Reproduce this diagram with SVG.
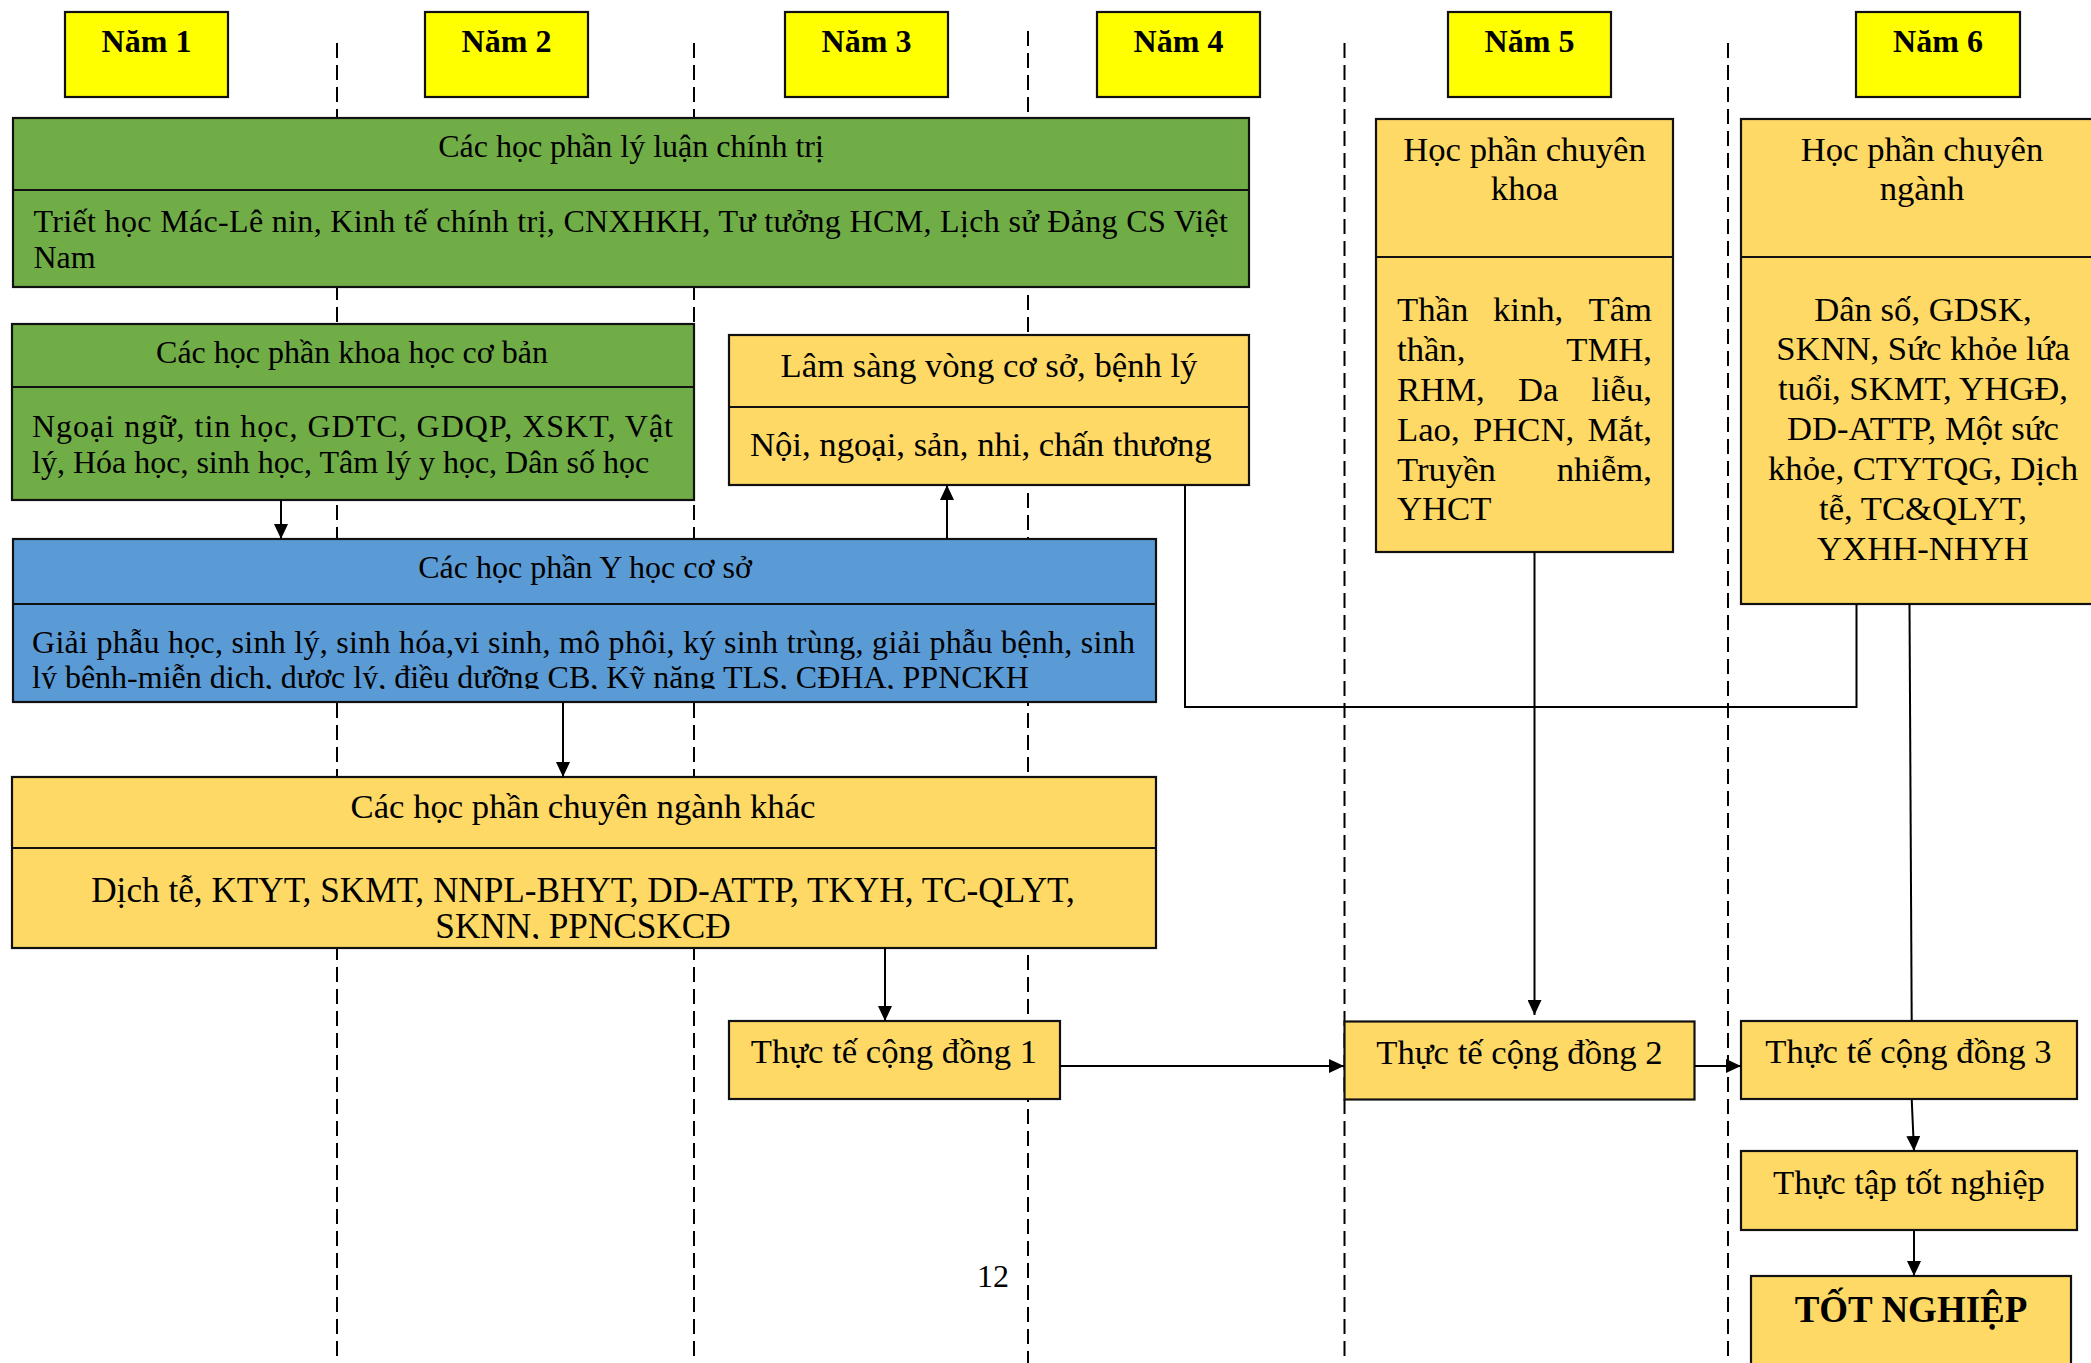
<svg xmlns="http://www.w3.org/2000/svg" width="2091" height="1363" viewBox="0 0 2091 1363">
<defs>
<style>
.box{stroke:#111;stroke-width:2.2}
.yr{fill:#FFFF00}
.g{fill:#70AD47}
.b{fill:#5B9BD5}
.o{fill:#FFD966}
.div{stroke:#111;stroke-width:2.2}
text{font-family:"Liberation Serif","Times New Roman",serif;fill:#000}
.t32{font-size:32px}
.t35{font-size:34.67px}
.yt{font-size:32px;font-weight:bold;text-anchor:middle}
.c{text-anchor:middle}
.e{text-anchor:end}
.dash{stroke:#000;stroke-width:2;stroke-dasharray:15 7;fill:none}
.conn{stroke:#000;stroke-width:2;fill:none}
</style>
<marker id="arr" viewBox="0 0 15 14" refX="15" refY="7" markerWidth="15" markerHeight="14" markerUnits="userSpaceOnUse" orient="auto">
<path d="M0,0 L15,7 L0,14 z" fill="#000"/>
</marker>
<clipPath id="clipBlue"><rect x="13" y="605" width="1143" height="84"/></clipPath>
<clipPath id="clipOther"><rect x="12" y="849" width="1143" height="90"/></clipPath>
</defs>
<rect width="2091" height="1363" fill="#fff"/>

<g id="year-dividers">
<line class="dash" x1="337" y1="43" x2="337" y2="1357"/>
<line class="dash" x1="694" y1="43" x2="694" y2="1357"/>
<line class="dash" x1="1028" y1="31" x2="1028" y2="1363"/>
<line class="dash" x1="1344.5" y1="43" x2="1344.5" y2="1357"/>
<line class="dash" x1="1728" y1="43" x2="1728" y2="1357"/>
</g>

<g id="nam1"><rect class="box yr" x="65" y="12" width="163" height="85"/><text class="yt" x="146.5" y="52">Năm 1</text></g>
<g id="nam2"><rect class="box yr" x="425" y="12" width="163" height="85"/><text class="yt" x="506.5" y="52">Năm 2</text></g>
<g id="nam3"><rect class="box yr" x="785" y="12" width="163" height="85"/><text class="yt" x="866.5" y="52">Năm 3</text></g>
<g id="nam4"><rect class="box yr" x="1097" y="12" width="163" height="85"/><text class="yt" x="1178.5" y="52">Năm 4</text></g>
<g id="nam5"><rect class="box yr" x="1448" y="12" width="163" height="85"/><text class="yt" x="1529.5" y="52">Năm 5</text></g>
<g id="nam6"><rect class="box yr" x="1856" y="12" width="164" height="85"/><text class="yt" x="1938" y="52">Năm 6</text></g>

<g id="ly-luan-chinh-tri">
<rect class="box g" x="13" y="118" width="1236" height="169"/>
<line class="div" x1="13" y1="190" x2="1249" y2="190"/>
<text class="t32 c" x="631" y="157">Các học phần lý luận chính trị</text>
<text class="t32" x="33.5" y="232" textLength="1194.5" lengthAdjust="spacing">Triết học Mác-Lê nin, Kinh tế chính trị, CNXHKH, Tư tưởng HCM, Lịch sử Đảng CS Việt</text>
<text class="t32" x="33.5" y="268">Nam</text>
</g>

<g id="khoa-hoc-co-ban">
<rect class="box g" x="12" y="324" width="682" height="176"/>
<line class="div" x1="12" y1="387" x2="694" y2="387"/>
<text class="t32 c" x="352" y="363">Các học phần khoa học cơ bản</text>
<text class="t32" x="32" y="437" textLength="641" lengthAdjust="spacing">Ngoại ngữ, tin học, GDTC, GDQP, XSKT, Vật</text>
<text class="t32" x="32" y="473">lý, Hóa học, sinh học, Tâm lý y học, Dân số học</text>
</g>

<g id="lam-sang">
<rect class="box o" x="729" y="335" width="520" height="150"/>
<line class="div" x1="729" y1="407" x2="1249" y2="407"/>
<text class="t35 c" x="989" y="377">Lâm sàng vòng cơ sở, bệnh lý</text>
<text class="t35" x="750" y="456">Nội, ngoại, sản, nhi, chấn thương</text>
</g>

<g id="y-hoc-co-so">
<rect class="box b" x="13" y="539" width="1143" height="163"/>
<line class="div" x1="13" y1="604" x2="1156" y2="604"/>
<text class="t32 c" x="585" y="578">Các học phần Y học cơ sở</text>
<text class="t32" x="32" y="653" textLength="1103" lengthAdjust="spacing">Giải phẫu học, sinh lý, sinh hóa,vi sinh, mô phôi, ký sinh trùng, giải phẫu bệnh, sinh</text>
<text class="t32" x="32" y="688" clip-path="url(#clipBlue)">lý bệnh-miễn dịch, dược lý, điều dưỡng CB, Kỹ năng TLS, CĐHA, PPNCKH</text>
</g>

<g id="chuyen-nganh-khac">
<rect class="box o" x="12" y="777" width="1144" height="171"/>
<line class="div" x1="12" y1="848" x2="1156" y2="848"/>
<text class="t35 c" x="583" y="818">Các học phần chuyên ngành khác</text>
<text class="c" style="font-size:35.2px" x="583" y="902">Dịch tễ, KTYT, SKMT, NNPL-BHYT, DD-ATTP, TKYH, TC-QLYT,</text>
<text class="c" style="font-size:35.2px" x="583" y="938" clip-path="url(#clipOther)">SKNN, PPNCSKCĐ</text>
</g>

<g id="chuyen-khoa">
<rect class="box o" x="1376" y="119" width="297" height="433"/>
<line class="div" x1="1376" y1="257" x2="1673" y2="257"/>
<text class="t35 c" x="1524.5" y="161">Học phần chuyên</text>
<text class="t35 c" x="1524.5" y="200">khoa</text>
<text class="t35" x="1397" y="321">Thần</text><text class="t35" x="1493" y="321">kinh,</text><text class="t35 e" x="1652" y="321">Tâm</text>
<text class="t35" x="1397" y="361">thần,</text><text class="t35 e" x="1652" y="361">TMH,</text>
<text class="t35" x="1397" y="401">RHM,</text><text class="t35" x="1518" y="401">Da</text><text class="t35 e" x="1652" y="401">liễu,</text>
<text class="t35" x="1397" y="441">Lao,</text><text class="t35" x="1473" y="441">PHCN,</text><text class="t35 e" x="1652" y="441">Mắt,</text>
<text class="t35" x="1397" y="481">Truyền</text><text class="t35 e" x="1652" y="481">nhiễm,</text>
<text class="t35" x="1397" y="520">YHCT</text>
</g>

<g id="chuyen-nganh">
<rect class="box o" x="1741" y="119" width="364" height="485"/>
<line class="div" x1="1741" y1="257" x2="2105" y2="257"/>
<text class="t35 c" x="1922" y="161">Học phần chuyên</text>
<text class="t35 c" x="1922" y="200">ngành</text>
<text class="t35 c" x="1923" y="321">Dân số, GDSK,</text>
<text class="t35 c" x="1923" y="360">SKNN, Sức khỏe lứa</text>
<text class="t35 c" x="1923" y="400">tuổi, SKMT, YHGĐ,</text>
<text class="t35 c" x="1923" y="440">DD-ATTP, Một sức</text>
<text class="t35 c" x="1923" y="480">khỏe, CTYTQG, Dịch</text>
<text class="t35 c" x="1923" y="520">tễ, TC&amp;QLYT,</text>
<text class="t35 c" x="1923" y="560">YXHH-NHYH</text>
</g>

<g id="ttcd1"><rect class="box o" x="729" y="1021" width="331" height="78"/><text class="t35 c" x="894" y="1063">Thực tế cộng đồng 1</text></g>
<g id="ttcd2"><rect class="box o" x="1344.5" y="1021.5" width="350" height="78"/><text class="t35 c" x="1519.5" y="1064">Thực tế cộng đồng 2</text></g>
<g id="ttcd3"><rect class="box o" x="1741" y="1021" width="336" height="78"/><text class="t35 c" x="1908.5" y="1063">Thực tế cộng đồng 3</text></g>
<g id="thuc-tap"><rect class="box o" x="1741" y="1151" width="336" height="79"/><text class="t35 c" x="1909" y="1194">Thực tập tốt nghiệp</text></g>
<g id="tot-nghiep"><rect class="box o" x="1751" y="1276" width="320" height="100"/><text class="c" x="1911" y="1322" style="font-size:37px;font-weight:bold">TỐT NGHIỆP</text></g>

<g id="page-number"><text style="font-size:32px" x="1009" y="1287" text-anchor="end">12</text></g>

<g id="connectors">
<line class="conn" x1="281" y1="500" x2="281" y2="539" marker-end="url(#arr)"/>
<line class="conn" x1="947" y1="539" x2="947" y2="485" marker-end="url(#arr)"/>
<line class="conn" x1="563" y1="702" x2="563" y2="777" marker-end="url(#arr)"/>
<line class="conn" x1="885" y1="948" x2="885" y2="1021" marker-end="url(#arr)"/>
<line class="conn" x1="1060" y1="1066" x2="1344" y2="1066" marker-end="url(#arr)"/>
<line class="conn" x1="1694.5" y1="1066" x2="1741" y2="1066" marker-end="url(#arr)"/>
<line class="conn" x1="1534.5" y1="552" x2="1534.5" y2="1015" marker-end="url(#arr)"/>
<line class="conn" x1="1909.5" y1="604" x2="1911.7" y2="1021"/>
<polyline class="conn" points="1185,485 1185,707 1856.5,707 1856.5,604"/>
<line class="conn" x1="1911.7" y1="1099" x2="1914" y2="1151" marker-end="url(#arr)"/>
<line class="conn" x1="1914" y1="1230" x2="1914" y2="1276" marker-end="url(#arr)"/>
</g>
</svg>
